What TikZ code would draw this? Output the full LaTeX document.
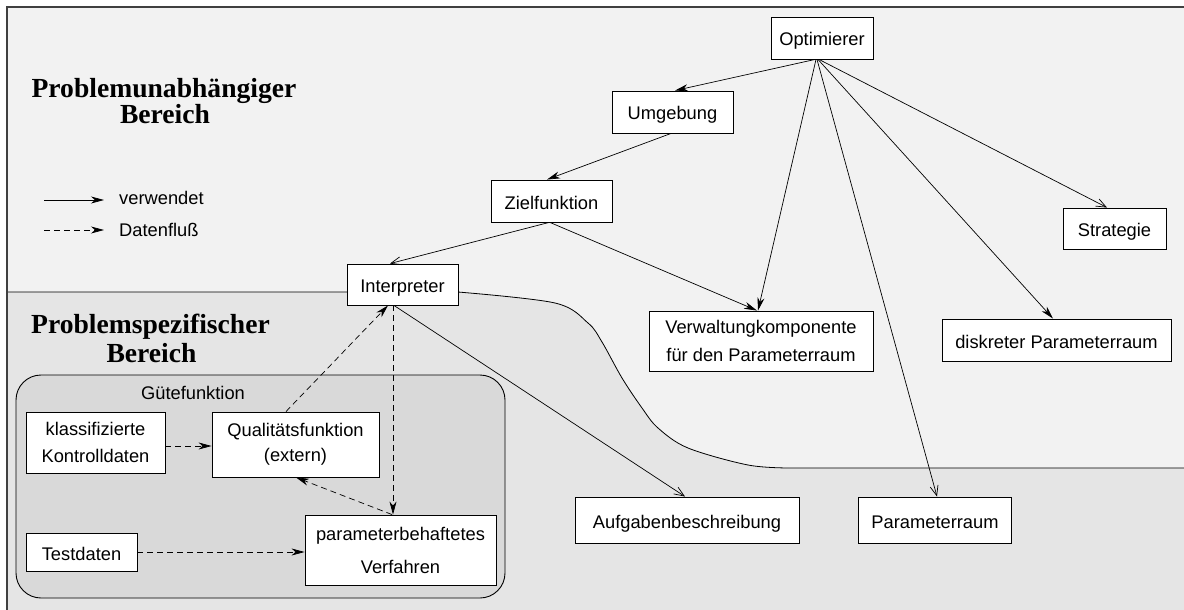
\documentclass[tikz,border=0pt]{standalone}
\usepackage{fontspec}
\setmainfont{Liberation Serif}
\setsansfont{Liberation Sans}
\usetikzlibrary{arrows.meta}
\definecolor{upfill}{gray}{0.95}
\definecolor{lowfill}{gray}{0.90}
\definecolor{guetefill}{gray}{0.85}
\tikzset{
  box/.style={draw, fill=white, line width=0.9pt, inner sep=0pt,
    font=\sffamily\fontsize{18.3}{22}\selectfont, text height=16pt, text depth=0pt},
  boxtwo/.style={draw, fill=white, line width=0.9pt, inner sep=0pt, align=center},
  uses/.style={line width=0.7pt, -{Stealth[length=13pt,width=7pt,inset=4pt]}},
  usesopen/.style={line width=0.7pt, -{Straight Barb[length=10pt,width=8pt]}},
  flow/.style={line width=0.7pt, dash pattern=on 6pt off 4pt, -{Stealth[length=13pt,width=7pt,inset=4pt]}},
  title/.style={font=\bfseries\fontsize{27.6}{27}\selectfont, anchor=base, inner sep=0pt},
  lbl/.style={font=\sffamily\fontsize{18.3}{22}\selectfont, inner sep=0pt},
}
\begin{document}
\begin{tikzpicture}[x=1pt,y=-1pt]
\useasboundingbox (0,0) rectangle (1184,610);
\clip (0,0) rectangle (1184,610);
% regions
\fill[upfill] (7,7) rectangle (1195,620);
\fill[lowfill] (7,292) -- plot[smooth,tension=0.55] coordinates {(458,292) (555,303) (588,323) (602,342) (622,378) (642,408) (658,428) (688,448) (748,465) (790,468)} -- (1195,468) -- (1195,620) -- (7,620) -- cycle;
\draw[line width=0.8pt] (7,292) -- plot[smooth,tension=0.55] coordinates {(458,292) (555,303) (588,323) (602,342) (622,378) (642,408) (658,428) (688,448) (748,465) (790,468)} -- (1195,468);
\draw[line width=1.1pt, black!75] (7,7) rectangle (1195,620);

% titles
\node[title] (t1a) at (164,97) {Problemunabhängiger};
\node[title] (t1b) at (165,124) {Bereich};
\node[title] (t2a) at (150.5,333) {Problemspezifischer};
\node[title] (t2b) at (151.5,362) {Bereich};

% legend
\coordinate (la1) at (44,200); \coordinate (la2) at (104,200);
\draw[uses] (la1) -- (la2);
\node[lbl, anchor=base west] (lt1) at (119,204) {verwendet};
\coordinate (lb1) at (44,230); \coordinate (lb2) at (104,230);
\draw[flow] (lb1) -- (lb2);
\node[lbl, anchor=base west] (lt2) at (119,236) {Datenfluß};

% Guetefunktion container
\node[draw, fill=guetefill, rounded corners=25pt, line width=0.9pt, inner sep=0pt,
  minimum width=489pt, minimum height=223pt] (guete) at (260.5,486.5) {};
\node[lbl, anchor=base] (guetel) at (193,399) {Gütefunktion};

% boxes
\node[box, minimum width=102pt, minimum height=42pt] (opt) at (822,38) {Optimierer};
\node[box, minimum width=121pt, minimum height=42pt] (umg) at (672.5,112) {Umgebung};
\node[box, minimum width=121pt, minimum height=42pt] (ziel) at (551.5,201) {Zielfunktion};
\node[box, minimum width=103pt, minimum height=41pt] (strat) at (1114.5,228.5) {Strategie};
\node[box, minimum width=111pt, minimum height=41pt] (interp) at (402.5,284.5) {Interpreter};
\node[boxtwo, minimum width=224pt, minimum height=60pt,
  font=\sffamily\fontsize{18.3}{28}\selectfont] (verw) at (761,341) {Verwaltungkomponente\\für den Parameterraum};
\node[box, minimum width=229pt, minimum height=42pt] (disk) at (1056.5,340) {diskreter Parameterraum};
\node[box, minimum width=224pt, minimum height=46pt] (aufg) at (687,520) {Aufgabenbeschreibung};
\node[box, minimum width=153.5pt, minimum height=46pt] (param) at (935,520) {Parameterraum};
\node[boxtwo, minimum width=139pt, minimum height=61pt,
  font=\sffamily\fontsize{18.3}{27}\selectfont] (klass) at (95.5,442.5) {klassifizierte\\Kontrolldaten};
\node[boxtwo, minimum width=167pt, minimum height=65pt,
  font=\sffamily\fontsize{18.3}{25}\selectfont] (qual) at (295.5,444.5) {Qualitätsfunktion\\(extern)};
\node[box, minimum width=111pt, minimum height=38pt] (test) at (81.5,552) {Testdaten};
\node[boxtwo, minimum width=191pt, minimum height=70pt,
  font=\sffamily\fontsize{18.3}{33}\selectfont] (verf) at (400.5,550) {parameterbehaftetes\\Verfahren};

% "verwendet" connectors
\draw[uses] ([xshift=-7pt]opt.south) -- ([xshift=2.5pt]umg.north);
\draw[uses] ([xshift=-1.5pt]umg.south) -- ([xshift=-4.5pt]ziel.north);
\draw[usesopen] ([xshift=-2.5pt]ziel.south) -- ([xshift=-12.5pt]interp.north);
\draw[uses] ([xshift=-1.5pt]ziel.south) -- ([xshift=-4pt]verw.north);
\draw[uses] ([xshift=-6pt]opt.south) -- ([xshift=-3pt]verw.north);
\draw[usesopen] ([xshift=-5pt]opt.south) -- ([xshift=2pt]param.north);
\draw[uses] ([xshift=-4pt]opt.south) -- ([xshift=-3.5pt]disk.north);
\draw[usesopen] ([xshift=-3pt]opt.south) -- ([xshift=-7.5pt]strat.north);
\draw[usesopen] ([xshift=-8.5pt]interp.south) -- ([xshift=-2pt]aufg.north);

% data flow
\draw[flow] ([yshift=-3.5pt]klass.east) -- ([yshift=-1.5pt]qual.west);
\draw[flow] (test.east) -- ([yshift=-2pt]verf.west);
\draw[flow] ([xshift=-9.5pt]interp.south) -- ([xshift=-7.5pt]verf.north);
\draw[flow] ([xshift=-8.5pt]verf.north) -- ([xshift=0.5pt]qual.south);
\draw[flow] ([xshift=-9.5pt]qual.north) -- ([xshift=-14.5pt]interp.south);
\end{tikzpicture}
\end{document}
